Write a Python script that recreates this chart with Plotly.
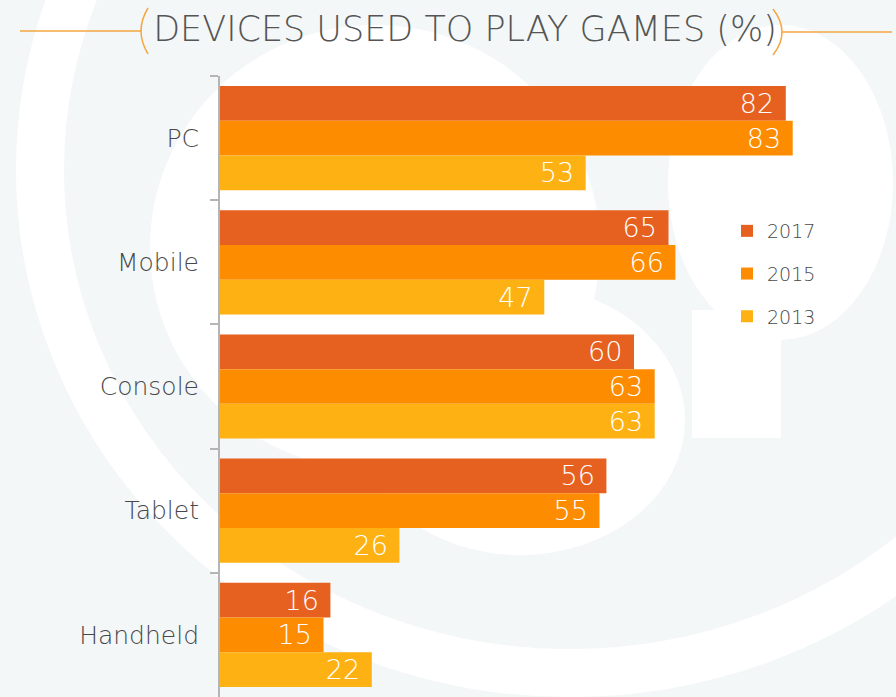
import plotly.graph_objects as go

# Share of players using each device (%)
devices = ["PC", "Mobile", "Console", "Tablet", "Handheld"]
years = ["2017", "2015", "2013"]
values_2017 = [82, 65, 60, 56, 16]
values_2015 = [83, 66, 63, 55, 15]
values_2013 = [53, 47, 63, 26, 22]
series = [values_2017, values_2015, values_2013]
colors = ["#e6611f", "#fd8c00", "#feb113"]

W, H = 896, 697
ML, MR, MT, MB = 220, 16, 76, 0
PX_PER_UNIT = 6.9
plot_w = W - ML - MR
plot_h = H - MT - MB

FONT = "DejaVu Sans"
LIGHT = 200
GREY_TEXT = "#484848"
BG_TINT = "#f3f7f8"
ACCENT = "#f5a640"


def px(x):
    return (x - ML) / plot_w


def py(y):
    return (H - MB - y) / plot_h


fig = go.Figure()
for name, vals, col in zip(years, series, colors):
    fig.add_trace(go.Bar(
        y=devices, x=vals, name=name, orientation="h",
        marker=dict(color=col, line=dict(width=0)),
        text=vals, texttemplate="%{x}\u00a0", textposition="inside",
        insidetextanchor="end", constraintext="none",
        textfont=dict(family=FONT, size=27, color="white", weight=LIGHT),
        legendgroup=name,
    ))

shapes = []


def ellipse(x0, y0, x1, y1, fill, line_w=0, line_col=None):
    shapes.append(dict(
        type="circle", xref="paper", yref="paper", layer="below",
        x0=px(x0), x1=px(x1), y0=py(y1), y1=py(y0),
        fillcolor=fill, line=dict(width=line_w, color=line_col or fill),
    ))


# faint watermark swirl in the background
ellipse(570 - 530, 170 - 503, 570 + 530, 170 + 503, "rgba(0,0,0,0)", 48, "white")
ellipse(150, 25, 600, 470, "white")
ellipse(355, 285, 685, 555, "white")
ellipse(668, 25, 893, 340, "white")
shapes.append(dict(type="rect", xref="paper", yref="paper", layer="below",
                   x0=px(692), x1=px(781), y0=py(438), y1=py(310),
                   fillcolor="white", line=dict(width=0)))

# orange rules and brackets around the heading
for x0, x1, yy in [(20, 141, 31), (782, 892, 32)]:
    shapes.append(dict(type="line", xref="paper", yref="paper",
                       x0=px(x0), x1=px(x1), y0=py(yy), y1=py(yy),
                       line=dict(color=ACCENT, width=1.5)))


def bracket(xe, xm, ya, yb):
    ym = (ya + yb) / 2
    path = (f"M {px(xe)},{py(ya)} Q {px(2 * xm - xe)},{py(ym)} {px(xe)},{py(yb)}")
    shapes.append(dict(type="path", xref="paper", yref="paper", path=path,
                       line=dict(color=ACCENT, width=1.5)))


bracket(148, 141, 8, 54)
bracket(773, 782, 9, 55)

fig.update_layout(
    width=W, height=H,
    margin=dict(l=ML, r=MR, t=MT, b=MB, pad=0),
    paper_bgcolor=BG_TINT, plot_bgcolor="rgba(0,0,0,0)",
    barmode="group", bargap=0.161, bargroupgap=0,
    font=dict(family=FONT, color=GREY_TEXT, weight=LIGHT),
    title=dict(
        text="DEVICES USED TO PLAY GAMES (%)",
        x=465 / W, xanchor="center", y=1 - 29 / H, yanchor="middle",
        font=dict(family=FONT, size=35, color="#555555", weight=LIGHT),
    ),
    xaxis=dict(range=[0, plot_w / PX_PER_UNIT], visible=False),
    yaxis=dict(
        autorange=False, range=[len(devices) - 0.5, -0.5],
        showline=True, linecolor="#b5b5b5", linewidth=2,
        ticks="outside", tickson="boundaries", ticklen=8,
        tickcolor="#b5b5b5", tickwidth=2, ticklabelstandoff=14,
        showgrid=False, zeroline=False,
        tickfont=dict(family=FONT, size=25, color=GREY_TEXT, weight=LIGHT),
    ),
    legend=dict(
        x=px(727), xanchor="left", y=py(212), yanchor="top",
        bgcolor="rgba(0,0,0,0)", tracegroupgap=15,
        font=dict(family=FONT, size=19, color=GREY_TEXT, weight=LIGHT),
    ),
    shapes=shapes,
)

fig.write_html("out.html")
